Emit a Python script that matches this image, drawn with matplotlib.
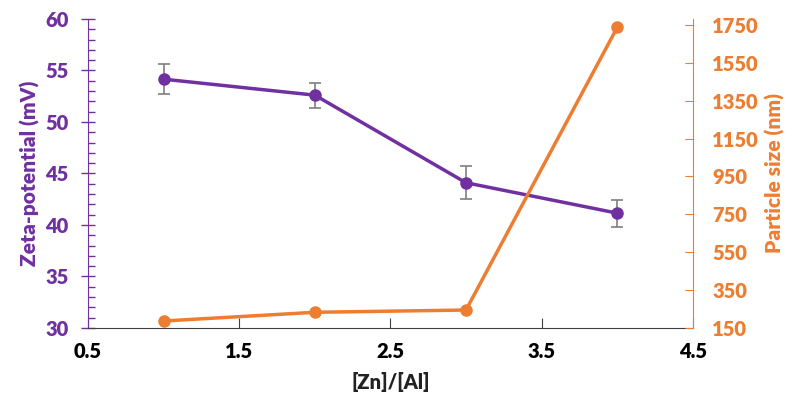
import matplotlib.pyplot as plt
from matplotlib.ticker import MultipleLocator
import numpy as np

ratio = [1, 2, 3, 4]
zeta = [54.15, 52.6, 44.1, 41.15]
zeta_err = [1.45, 1.2, 1.6, 1.3]
size = [187, 233, 245, 1737]

purple = '#7030A0'
orange = '#ED7D31'

plt.rcParams['font.family'] = ['Lato', 'DejaVu Sans']
plt.rcParams['font.weight'] = 800

fig = plt.figure(figsize=(8, 4.2), dpi=100)
ax = fig.add_axes([0.11, 0.219, 0.756, 0.736])
ax2 = ax.twinx()

ax.errorbar(ratio, zeta, yerr=zeta_err, color=purple, lw=2.5, marker='o', ms=8,
            ecolor='#7f7f7f', elinewidth=1.2, capsize=4, capthick=1.2, zorder=3)
ax2.plot(ratio, size, color=orange, lw=2.5, marker='o', ms=8)

ax.set_xlim(0.5, 4.5)
ax.set_ylim(30, 60)
ax2.set_ylim(150, 1782)
ax.set_xticks([0.5, 1.5, 2.5, 3.5, 4.5])
ax.set_yticks(np.arange(30, 61, 5))
ax.yaxis.set_minor_locator(MultipleLocator(1))
ax2.set_yticks(np.arange(150, 1751, 200))

for s in ['top', 'right']:
    ax.spines[s].set_visible(False)
for s in ['top', 'left', 'bottom']:
    ax2.spines[s].set_visible(False)
ax.spines['left'].set_color(purple)
ax.spines['bottom'].set_color('#404040')
ax2.spines['right'].set_color(orange)

ax.tick_params(axis='y', which='major', direction='inout', length=10, color=purple,
               labelcolor=purple, labelsize=14.5, width=1, pad=9)
ax.tick_params(axis='y', which='minor', direction='in', length=5, color=purple, width=1)
ax.tick_params(axis='x', direction='in', length=7, color='#404040', labelsize=14.5, pad=10)
ax2.tick_params(axis='y', direction='in', length=6, color=orange, labelcolor=orange,
                labelsize=14.5, pad=14)

ax.set_xlabel('[Zn]/[Al]', fontsize=14.5, fontweight=800, color='#222222', labelpad=8)
ax.set_ylabel('Zeta-potential (mV)', fontsize=15, fontweight=800, color=purple, labelpad=4)
ax2.set_ylabel('Particle size (nm)', fontsize=15, fontweight=800, color=orange, labelpad=4)

fig.savefig('out.png', dpi=100)
